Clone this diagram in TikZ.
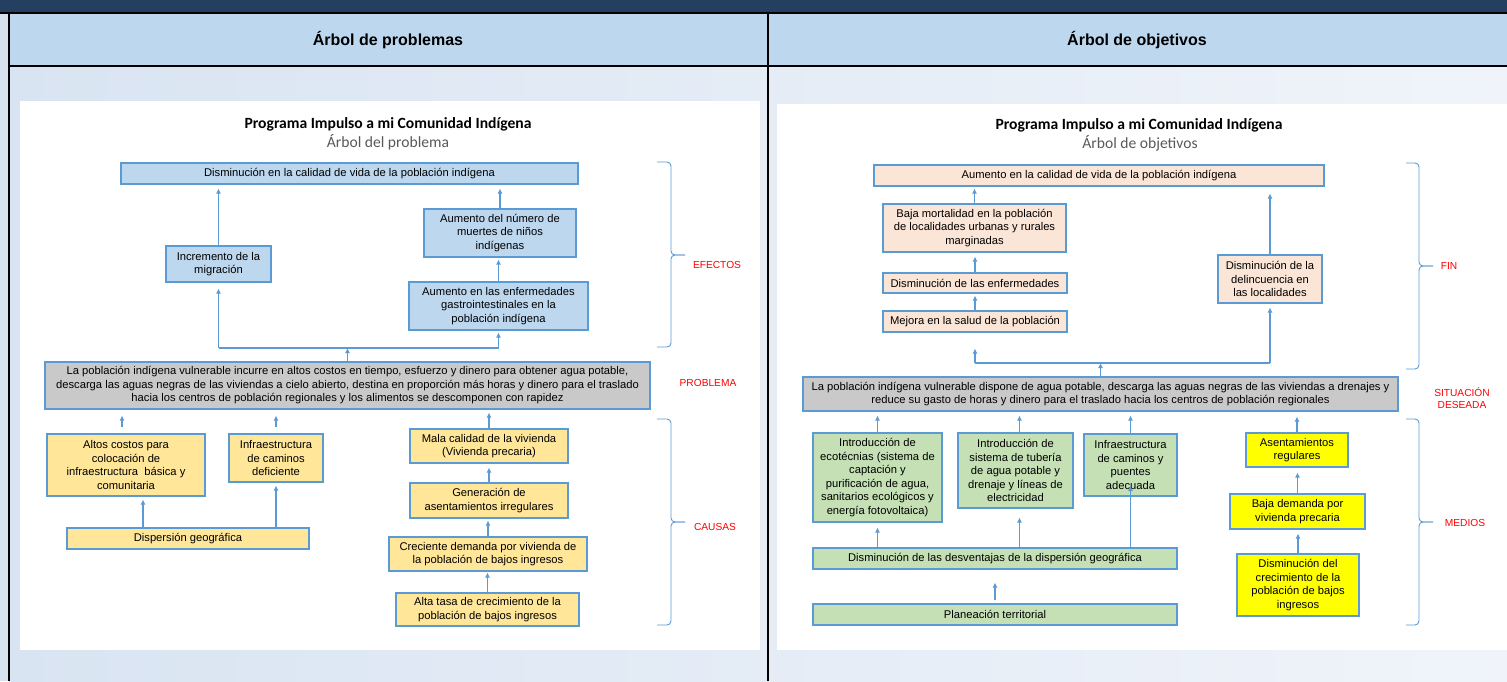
\documentclass[tikz,border=0pt]{standalone}
\usepackage{fontspec}
\setmainfont{Liberation Sans}
\newfontfamily\calibri{Carlito}
\usepackage{tikz}
\usetikzlibrary{arrows.meta, calc, positioning}

\definecolor{band-navy}{RGB}{36,63,96}
\definecolor{head-blue}{RGB}{189,215,238}
\definecolor{side-blue}{RGB}{214,226,240}
\definecolor{body-left}{RGB}{217,228,242}
\definecolor{body-right}{RGB}{240,244,250}
\definecolor{box-line}{RGB}{91,155,213}
\definecolor{effect-fill}{RGB}{189,215,238}
\definecolor{problem-fill}{RGB}{201,201,201}
\definecolor{cause-fill}{RGB}{255,230,153}
\definecolor{goal-fill}{RGB}{251,229,214}
\definecolor{means-fill}{RGB}{197,224,180}
\definecolor{means-yellow}{RGB}{255,255,0}
\definecolor{label-red}{RGB}{255,0,0}
\definecolor{sub-gray}{RGB}{89,89,89}

\tikzset{
     %set default line width to 0.75pt
    every picture/.style={line width=0.75pt},
    tree-box/.style={
        draw=box-line,
        line width=1.1pt,
        align=center,
        inner sep=1pt,
        font=\fontsize{11.2}{13.5}\selectfont,
    },
    effect-box/.style={tree-box, fill=effect-fill},
    problem-box/.style={tree-box, fill=problem-fill},
    cause-box/.style={tree-box, fill=cause-fill},
    goal-box/.style={tree-box, fill=goal-fill},
    means-box/.style={tree-box, fill=means-fill},
    means-alt-box/.style={tree-box, fill=means-yellow},
    tree-link/.style={
        draw=box-line,
        line width=1.1pt,
    },
    up-arrow/.style={
        tree-link,
        -{Latex[length=5pt,width=5pt]},
    },
    brace-line/.style={
        draw=box-line,
        line width=0.9pt,
        rounded corners=4pt,
    },
    side-label/.style={
        text=label-red,
        align=center,
        inner sep=0pt,
        font=\fontsize{10.2}{12}\selectfont,
    },
    head-text/.style={
        inner sep=0pt,
        font=\bfseries\fontsize{16}{19}\selectfont,
    },
    title-text/.style={
        inner sep=0pt,
        font=\calibri\bfseries\fontsize{15.6}{18}\selectfont,
    },
    subtitle-text/.style={
        inner sep=0pt,
        text=sub-gray,
        font=\calibri\fontsize{15.6}{18}\selectfont,
    },
}

\begin{document}
\begin{tikzpicture}[x=1pt,y=1pt,yscale=-1]
\useasboundingbox (0,0) rectangle (1507,681);

%Background
\fill[side-blue] (0,0) rectangle (9,681);
\shade[left color=body-left, right color=body-right] (9,66) rectangle (1507,681);
\fill[head-blue] (9,13) rectangle (1507,66);
\fill[band-navy] (0,0) rectangle (1507,13);
\draw[line width=2pt] (0,13) -- (1507,13);
\draw[line width=2pt] (9,66) -- (1507,66);
\draw[line width=2pt] (9,13) -- (9,681);
\draw[line width=2pt] (768,13) -- (768,681);

%Slides
\fill[white] (20,101) rectangle (760,650);
\fill[white] (777,104) rectangle (1507,650);

% Text Node
\node[head-text] (head-prob) at (388,40) {Árbol de problemas};
\node[head-text] (head-obj) at (1137,40) {Árbol de objetivos};

%%%%% Arbol de problemas
\node[title-text] (title-prob) at (388,124) {Programa Impulso a mi Comunidad Indígena};
\node[subtitle-text] (subtitle-prob) at (388,142) {Árbol del problema};

% Effects
\node[effect-box, minimum width=457pt, minimum height=21pt] (calidad-p) at (349.5,173.5)
    {Disminución en la calidad de vida de la población indígena};
\node[effect-box, minimum width=105pt, minimum height=36pt] (migracion) at (218.5,264)
    {Incremento de la\\migración};
\node[effect-box, minimum width=152pt, minimum height=48pt] (muertes) at (500,233)
    {Aumento del número de\\muertes de niños\\indígenas};
\node[effect-box, minimum width=179pt, minimum height=48pt] (gastro) at (498.5,306)
    {Aumento en las enfermedades\\gastrointestinales en la\\población indígena};

% Problem
\node[problem-box, minimum width=605pt, minimum height=47pt] (problema) at (347.5,385.5)
    {La población indígena vulnerable incurre en altos costos en tiempo, esfuerzo y dinero para obtener agua potable,\\
     descarga las aguas negras de las viviendas a cielo abierto, destina en proporción más horas y dinero para el traslado\\
     hacia los centros de población regionales y los alimentos se descomponen con rapidez};

% Causes
\node[cause-box, minimum width=158pt, minimum height=62pt] (altos) at (126,465)
    {Altos costos para\\colocación de\\infraestructura~ básica y\\comunitaria};
\node[cause-box, minimum width=94pt, minimum height=48pt] (caminos-p) at (276,458)
    {Infraestructura\\de caminos\\deficiente};
\node[cause-box, minimum width=242pt, minimum height=21pt] (dispersion-p) at (188,538.5)
    {Dispersión geográfica};
\node[cause-box, minimum width=158pt, minimum height=34pt] (mala) at (489,446)
    {Mala calidad de la vivienda\\(Vivienda precaria)};
\node[cause-box, minimum width=158pt, minimum height=35pt] (irregulares) at (489,500.5)
    {Generación de\\asentamientos irregulares};
\node[cause-box, minimum width=198pt, minimum height=34pt] (demanda) at (488,554)
    {Creciente demanda por vivienda de\\la población de bajos ingresos};
\node[cause-box, minimum width=183pt, minimum height=33pt] (tasa) at (487.5,609.5)
    {Alta tasa de crecimiento de la\\población de bajos ingresos};

\coordinate (junc-p) at (347.5,348);
\draw[up-arrow, shorten >=4pt] (migracion.north) -- (migracion.north |- calidad-p.south);
\draw[up-arrow, shorten >=4pt] (muertes.north) -- (muertes.north |- calidad-p.south);
\draw[up-arrow, shorten >=2pt] (gastro.north) -- (gastro.north |- muertes.south);
\draw[up-arrow] (problema.north) -- (junc-p);
\draw[tree-link] (migracion.south |- junc-p) -- (gastro.south |- junc-p);
\draw[up-arrow, shorten >=6pt] (migracion.south |- junc-p) -- (migracion.south);
\draw[up-arrow, shorten >=2pt] (gastro.south |- junc-p) -- (gastro.south);

\draw[up-arrow, shorten <=6pt, shorten >=6pt] ([xshift=-4pt]altos.north) -- ([xshift=-4pt]altos.north |- problema.south);
\draw[up-arrow, shorten <=6pt, shorten >=6pt] (caminos-p.north) -- (caminos-p.north |- problema.south);
\draw[up-arrow, shorten >=3pt] ([xshift=17pt]altos.south |- dispersion-p.north) -- ([xshift=17pt]altos.south);
\draw[up-arrow, shorten >=3pt] (caminos-p.south |- dispersion-p.north) -- (caminos-p.south);
\draw[up-arrow, shorten >=3pt] (mala.north) -- (mala.north |- problema.south);
\draw[up-arrow, shorten >=4pt] (irregulares.north) -- (irregulares.north |- mala.south);
\draw[up-arrow, shorten >=2pt] (demanda.north) -- (demanda.north |- irregulares.south);
\draw[up-arrow, shorten >=1pt] (tasa.north) -- (tasa.north |- demanda.south);

% Braces
\draw[brace-line] (657,162) -- (671,162) -- (671,255) -- (685,255);
\draw[brace-line] (685,255) -- (671,255) -- (671,347) -- (657,347);
\draw[brace-line] (657,419) -- (671,419) -- (671,522) -- (685,522);
\draw[brace-line] (685,522) -- (671,522) -- (671,625) -- (657,625);

\node[side-label] (lbl-efectos) at (717,265) {EFECTOS};
\node[side-label] (lbl-problema) at (708,383) {PROBLEMA};
\node[side-label] (lbl-causas) at (715,527) {CAUSAS};

%%%%% Arbol de objetivos
\node[title-text] (title-obj) at (1139,125) {Programa Impulso a mi Comunidad Indígena};
\node[subtitle-text] (subtitle-obj) at (1140,143) {Árbol de objetivos};

% Ends
\node[goal-box, minimum width=450pt, minimum height=21pt] (calidad-o) at (1099,175.5)
    {Aumento en la calidad de vida de la población indígena};
\node[goal-box, minimum width=183pt, minimum height=48pt] (mortalidad) at (974.5,228)
    {Baja mortalidad en la población\\de localidades urbanas y rurales\\marginadas};
\node[goal-box, minimum width=184pt, minimum height=20pt] (enfermedades) at (975,283)
    {Disminución de las enfermedades};
\node[goal-box, minimum width=184pt, minimum height=21pt] (salud) at (975,321.5)
    {Mejora en la salud de la población};
\node[goal-box, minimum width=104pt, minimum height=48pt] (delincuencia) at (1270,279)
    {Disminución de la\\delincuencia en\\las localidades};

% Desired situation
\node[problem-box, minimum width=595pt, minimum height=34pt] (situacion) at (1100.5,394)
    {La población indígena vulnerable dispone de agua potable, descarga las aguas negras de las viviendas a drenajes y\\
     reduce su gasto de horas y dinero para el traslado hacia los centros de población regionales};

% Means
\node[means-box, minimum width=129pt, minimum height=89pt] (ecotecnias) at (877.5,477.5)
    {Introducción de\\ecotécnias (sistema de\\captación y\\purificación de agua,\\sanitarios ecológicos y\\energía fotovoltaica)};
\node[means-box, minimum width=115pt, minimum height=75pt] (tuberia) at (1015.5,470.5)
    {Introducción de\\sistema de tubería\\de agua potable y\\drenaje y líneas de\\electricidad};
\node[means-box, minimum width=93pt, minimum height=62pt] (caminos-o) at (1130.5,465)
    {Infraestructura\\de caminos y\\puentes\\adecuada};
\node[means-box, minimum width=364pt, minimum height=21pt] (dispersion-o) at (995,558.5)
    {Disminución de las desventajas de la dispersión geográfica};
\node[means-box, minimum width=364pt, minimum height=21pt] (planeacion) at (995,614.5)
    {Planeación territorial};
\node[means-alt-box, minimum width=102pt, minimum height=34pt] (regulares) at (1297,450)
    {Asentamientos\\regulares};
\node[means-alt-box, minimum width=135pt, minimum height=35pt] (baja-demanda) at (1297.5,511.5)
    {Baja demanda por\\vivienda precaria};
\node[means-alt-box, minimum width=122pt, minimum height=62pt] (crecimiento) at (1298,585)
    {Disminución del\\crecimiento de la\\población de bajos\\ingresos};

\coordinate (junc-o) at (1100.5,363);
\draw[up-arrow, shorten >=2pt] (mortalidad.north) -- (mortalidad.north |- calidad-o.south);
\draw[up-arrow, shorten >=4pt] (enfermedades.north) -- (enfermedades.north |- mortalidad.south);
\draw[up-arrow, shorten >=2pt] (salud.north) -- (salud.north |- enfermedades.south);
\draw[up-arrow, shorten >=7pt] (delincuencia.north) -- (delincuencia.north |- calidad-o.south);
\draw[up-arrow] (situacion.north) -- (junc-o);
\draw[tree-link] (salud.south |- junc-o) -- (delincuencia.south |- junc-o);
\draw[up-arrow, shorten >=16pt] (salud.south |- junc-o) -- (salud.south);
\draw[up-arrow, shorten >=4pt] (delincuencia.south |- junc-o) -- (delincuencia.south);

\draw[up-arrow, shorten >=4pt] (ecotecnias.north) -- (ecotecnias.north |- situacion.south);
\draw[up-arrow, shorten >=4pt] ([xshift=4pt]tuberia.north) -- ([xshift=4pt]tuberia.north |- situacion.south);
\draw[up-arrow, shorten >=4pt] (caminos-o.north) -- (caminos-o.north |- situacion.south);
\draw[up-arrow, shorten >=5pt] (regulares.north) -- (regulares.north |- situacion.south);
\draw[up-arrow, shorten >=5pt] (ecotecnias.south |- dispersion-o.north) -- (ecotecnias.south);
\draw[up-arrow, shorten >=9pt] ([xshift=4pt]tuberia.south |- dispersion-o.north) -- ([xshift=4pt]tuberia.south);
\draw[up-arrow, shorten >=21pt] (caminos-o.south |- dispersion-o.north) -- (caminos-o.center);
\draw[up-arrow, shorten <=3pt, shorten >=13pt] (planeacion.north) -- (planeacion.north |- dispersion-o.south);
\draw[up-arrow, shorten >=5pt] (baja-demanda.north) -- (baja-demanda.north |- regulares.south);
\draw[up-arrow, shorten >=4pt] (crecimiento.north) -- (crecimiento.north |- baja-demanda.south);

% Braces
\draw[brace-line] (1406,163) -- (1419,163) -- (1419,266) -- (1433,266);
\draw[brace-line] (1433,266) -- (1419,266) -- (1419,369) -- (1406,369);
\draw[brace-line] (1406,419) -- (1419,419) -- (1419,522) -- (1433,522);
\draw[brace-line] (1433,522) -- (1419,522) -- (1419,625) -- (1406,625);

\node[side-label] (lbl-fin) at (1449,266) {FIN};
\node[side-label] (lbl-situacion) at (1462,398) {SITUACIÓN\\DESEADA};
\node[side-label] (lbl-medios) at (1465,523) {MEDIOS};
\end{tikzpicture}
\end{document}
